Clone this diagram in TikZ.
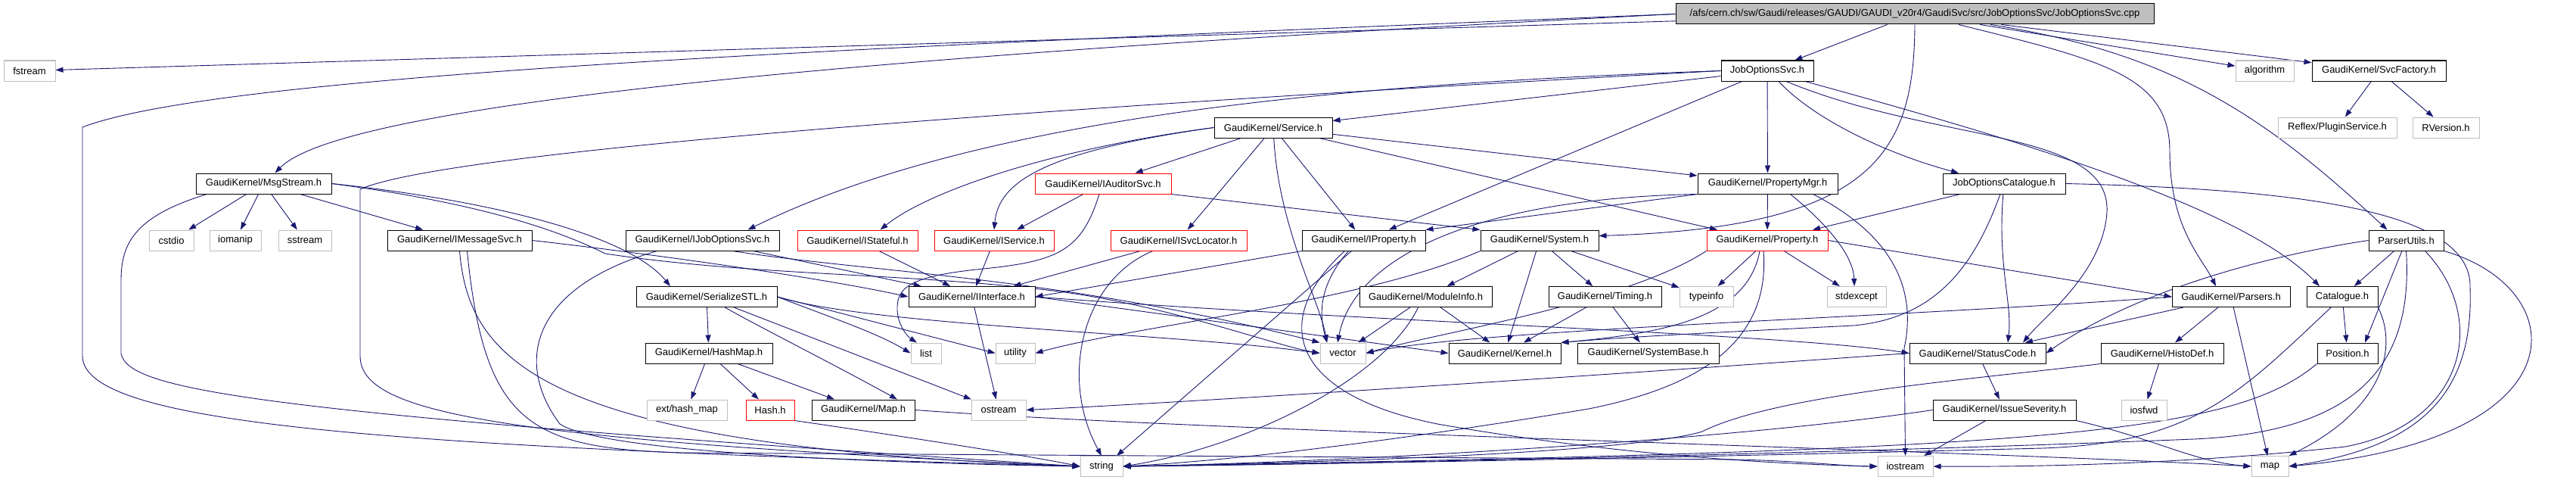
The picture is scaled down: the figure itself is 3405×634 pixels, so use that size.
\documentclass[tikz,border=0pt]{standalone}
\usepackage{fontspec}
\newfontfamily\lab{Liberation Sans}
\usetikzlibrary{arrows.meta,backgrounds}
\definecolor{edgec}{HTML}{191970}
\definecolor{grayb}{HTML}{BFBFBF}
\newcommand\bx[6]{\node[#5,minimum width={(#3)-(#2)}] (#1) at ({((#2)+(#3))/2},#4) {#6};}
\begin{document}
\begin{tikzpicture}[x=1pt,y=-1pt,
  bn/.style={draw=black,line width=1pt,fill=white,inner sep=0pt,minimum height=27pt,font=\lab\fontsize{13}{15}\selectfont},
  gn/.style={bn,draw=grayb},
  rn/.style={bn,draw=red},
  rootn/.style={bn,fill=grayb},
  ed/.style={draw=edgec,line width=0.9pt,-{Triangle[length=10pt,width=7pt]}}]
\useasboundingbox (0,0) rectangle (3405,634);
% row 0
\bx{root}{2215}{2847}{18.5}{rootn}{/afs/cern.ch/sw/Gaudi/releases/GAUDI/GAUDI\_v20r4/GaudiSvc/src/JobOptionsSvc/JobOptionsSvc.cpp}
% row 1
\bx{fstream}{5}{73}{93.5}{gn}{fstream}
\bx{jsh}{2275}{2397}{93.5}{bn}{JobOptionsSvc.h}
\bx{algorithm}{2955}{3032}{93.5}{gn}{algorithm}
\bx{svcf}{3056}{3233}{93.5}{bn}{GaudiKernel/SvcFactory.h}
% row 2
\bx{svc}{1605}{1761}{168.5}{bn}{GaudiKernel/Service.h}
\bx{plug}{3011}{3168}{168.5}{gn}{Reflex/PluginService.h}
\bx{rver}{3189}{3277}{168.5}{gn}{RVersion.h}
% row 3
\bx{ms}{259}{438}{242.5}{bn}{GaudiKernel/MsgStream.h}
\bx{ia}{1368}{1548}{242.5}{rn}{GaudiKernel/IAuditorSvc.h}
\bx{pm}{2244}{2429}{242.5}{bn}{GaudiKernel/PropertyMgr.h}
\bx{joc}{2568}{2730}{242.5}{bn}{JobOptionsCatalogue.h}
% row 4
\bx{cstdio}{197}{256}{317.5}{gn}{cstdio}
\bx{iomanip}{277}{345}{317.5}{gn}{iomanip}
\bx{sstream}{368}{438}{317.5}{gn}{sstream}
\bx{ims}{512}{703}{317.5}{bn}{GaudiKernel/IMessageSvc.h}
\bx{ijo}{827}{1030}{317.5}{bn}{GaudiKernel/IJobOptionsSvc.h}
\bx{ist}{1054}{1213}{317.5}{rn}{GaudiKernel/IStateful.h}
\bx{isv}{1235}{1393}{317.5}{rn}{GaudiKernel/IService.h}
\bx{isl}{1468}{1648}{317.5}{rn}{GaudiKernel/ISvcLocator.h}
\bx{ip}{1721}{1884}{317.5}{bn}{GaudiKernel/IProperty.h}
\bx{sys}{1957}{2113}{317.5}{bn}{GaudiKernel/System.h}
\bx{pr}{2256}{2416}{317.5}{rn}{GaudiKernel/Property.h}
\bx{pu}{3131}{3230}{317.5}{bn}{ParserUtils.h}
% row 5
\bx{ss}{841}{1027}{392}{bn}{GaudiKernel/SerializeSTL.h}
\bx{ii}{1201}{1368}{392}{bn}{GaudiKernel/IInterface.h}
\bx{mi}{1797}{1972}{392}{bn}{GaudiKernel/ModuleInfo.h}
\bx{ti}{2047}{2196}{392}{bn}{GaudiKernel/Timing.h}
\bx{typeinfo}{2220}{2291}{392}{gn}{typeinfo}
\bx{stdexcept}{2415}{2493}{392}{gn}{stdexcept}
\bx{pa}{2871}{3027}{392}{bn}{GaudiKernel/Parsers.h}
\bx{ca}{3049}{3143}{392}{bn}{Catalogue.h}
% row 6
\bx{hm}{853}{1021}{466.5}{bn}{GaudiKernel/HashMap.h}
\bx{list}{1204}{1244}{466.5}{gn}{list}
\bx{utility}{1316}{1368}{466.5}{gn}{utility}
\bx{vector}{1745}{1805}{466.5}{gn}{vector}
\bx{kern}{1915}{2063}{466.5}{bn}{GaudiKernel/Kernel.h}
\bx{sb}{2085}{2272}{466.5}{bn}{GaudiKernel/SystemBase.h}
\bx{sc}{2524}{2704}{466.5}{bn}{GaudiKernel/StatusCode.h}
\bx{hd}{2777}{2939}{466.5}{bn}{GaudiKernel/HistoDef.h}
\bx{pos}{3063}{3143}{466.5}{bn}{Position.h}
% row 7
\bx{ehm}{855}{961}{541.5}{gn}{ext/hash\_map}
\bx{hash}{986}{1050}{541.5}{rn}{Hash.h}
\bx{mp}{1073}{1209}{541.5}{bn}{GaudiKernel/Map.h}
\bx{ostream}{1284}{1356}{541.5}{gn}{ostream}
\bx{is}{2555}{2744}{541.5}{bn}{GaudiKernel/IssueSeverity.h}
\bx{iosfwd}{2804}{2864}{541.5}{gn}{iosfwd}
% row 8
\bx{string}{1428}{1484}{616}{gn}{string}
\bx{iostream}{2482}{2555}{616}{gn}{iostream}
\bx{map}{2976}{3025}{616}{gn}{map}

\begin{scope}[on background layer]
\fill[white] (0,0) rectangle (3405,634);
% root
\draw[ed] (root) -- (fstream);
\draw[ed] (root.west) .. controls (1200,60) and (300,95) .. (109,168) -- (109,470) .. controls (109,560) and (500,590) .. (string.west);
\draw[ed] (root.west) .. controls (1100,75) and (450,140) .. ([xshift=15]ms.north);
\draw[ed] (root) -- (jsh);
\draw[ed] (root) -- (algorithm);
\draw[ed] (root) -- (svcf);
\draw[ed] ([xshift=100]root.south) .. controls (2870,70) and (2990,150) .. ([xshift=-25]pu.north);
\draw[ed] ([xshift=58]root.south) .. controls (2780,80) and (2868,100) .. (2868,200) .. controls (2868,300) and (2910,340) .. ([xshift=-20]pa.north);
\draw[ed] (root.south) .. controls (2530,200) and (2480,300) .. ([yshift=6]sys.east);
% SvcFactory.h
\draw[ed] (svcf) -- (plug);
\draw[ed] (svcf) -- (rver);
% JobOptionsSvc.h
\draw[ed] (jsh) -- (svc);
\draw[ed] (jsh) -- (pm);
\draw[ed] ([xshift=15]jsh.south) .. controls (2400,160) and (2500,205) .. ([xshift=-60]joc.north);
\draw[ed] (jsh.west) .. controls (1800,110) and (1300,150) .. ([xshift=60]ijo.north);
\draw[ed] (jsh.west) .. controls (1500,135) and (600,195) .. (476,250) -- (476,470) .. controls (476,545) and (650,580) .. (string.west);
\draw[ed] (jsh) -- (ip);
\draw[ed] ([xshift=50]jsh.south) .. controls (2650,180) and (2960,270) .. ([xshift=-30]ca.north);
\draw[ed] ([xshift=25]jsh.south) .. controls (2560,190) and (2790,170) .. (2785,280) .. controls (2780,360) and (2700,420) .. ([xshift=60]sc.north);
% Service.h
\draw[ed] (svc.west) .. controls (1400,195) and (1230,250) .. ([xshift=30]ist.north);
\draw[ed] (svc.west) .. controls (1380,200) and (1320,240) .. (isv.north);
\draw[ed] (svc) -- (ia);
\draw[ed] (svc) -- (isl);
\draw[ed] (svc) .. controls (1690,300) and (1745,400) .. ([xshift=-21]vector.north);
\draw[ed] (svc) -- (ip);
\draw[ed] (svc) -- (pm);
\draw[ed] (svc) -- ([xshift=-66]pr.north);
% MsgStream.h
\draw[ed] (ms) -- (cstdio);
\draw[ed] (ms) -- (iomanip);
\draw[ed] (ms) -- (sstream);
\draw[ed] (ms) -- (ims);
\draw[ed] (ms.east) .. controls (650,265) and (830,310) .. ([xshift=-48]ss.north);
\draw[ed] (ms.east) .. controls (650,270) and (750,310) .. (800,335) .. controls (1000,365) and (1200,360) .. (1400,385) .. controls (1550,405) and (1680,455) .. (vector.west);
\draw[ed] ([xshift=-75]ms.south) .. controls (180,285) and (160,320) .. (160,370) -- (160,467) .. controls (170,515) and (330,545) .. (string.west);
% IAuditorSvc.h
\draw[ed] (ia) -- ([xshift=30]isv.north);
\draw[ed] ([xshift=-5]ia.south) .. controls (1430,330) and (1400,345) .. (1300,355) .. controls (1200,365) and (1185,380) .. (1186,410) .. controls (1187,430) and (1200,445) .. ([xshift=-12]list.north);
\draw[ed] (ia.south east) -- (sys.north west);
% IMessageSvc.h
\draw[ed] (ims.east) .. controls (900,340) and (1100,370) .. (ii.west);
\draw[ed] (ims.south) .. controls (620,480) and (720,590) .. (string.west);
\draw[ed] ([xshift=10]ims.south) .. controls (640,560) and (700,592) .. (900,598) -- (2300,607) .. controls (2400,610) and (2440,616) .. (iostream.west);
% IJobOptionsSvc.h
\draw[ed] (ijo) -- (ii);
\draw[ed] ([xshift=-60]ijo.south) .. controls (700,380) and (680,480) .. (740,560) .. controls (800,600) and (1200,612) .. (string.west);
\draw[ed] ([xshift=40]ijo.south) .. controls (1150,360) and (1400,365) .. (vector.north west);
% interfaces -> IInterface
\draw[ed] (ist) -- (ii);
\draw[ed] (isv) -- (ii);
\draw[ed] (isl) -- ([xshift=55]ii.north);
\draw[ed] (isl) .. controls (1430,370) and (1400,500) .. (string.north);
% IProperty.h
\draw[ed] (ip) -- (ii.east);
\draw[ed] ([xshift=-20]ip.south) .. controls (1740,380) and (1745,420) .. ([xshift=-21]vector.north);
\draw[ed] ([xshift=-25]ip.south) .. controls (1680,420) and (1700,520) .. (1900,560) .. controls (2100,595) and (2300,612) .. (iostream.west);
\draw[ed] (ip) -- ([xshift=20]string.north);
% System.h
\draw[ed] (sys) -- (mi);
\draw[ed] (sys) -- (ti);
\draw[ed] (sys) -- (kern);
\draw[ed] (sys) -- (typeinfo);
\draw[ed] (sys.south west) .. controls (1800,400) and (1500,430) .. (utility.east);
% PropertyMgr.h
\draw[ed] (pm) -- (pr);
\draw[ed] (pm.south west) -- (ip.north east);
\draw[ed] (pm.south west) .. controls (1950,262) and (1790,340) .. ([xshift=-7]vector.north);
\draw[ed] ([xshift=30]pm.south) .. controls (2420,300) and (2450,340) .. ([xshift=-3]stdexcept.north);
\draw[ed] ([xshift=60]pm.south) .. controls (2520,320) and (2530,400) .. (2517,460) -- (iostream.north);
% Property.h
\draw[ed] (pr) -- (typeinfo);
\draw[ed] (pr) -- (stdexcept);
\draw[ed] ([xshift=-5]pr.south) .. controls (2340,450) and (2250,510) .. (2100,540) .. controls (1800,590) and (1600,610) .. (string.east);
\draw[ed] (pr.east) -- (pa.west);
\draw[ed] ([xshift=-10]pr.south) .. controls (2310,420) and (2200,440) .. (kern.north east);
\draw[ed] (pr.south west) .. controls (2150,400) and (1900,440) .. (vector.east);
% JobOptionsCatalogue.h
\draw[ed] (joc) -- ([xshift=60]pr.north);
\draw[ed] (joc) .. controls (2640,350) and (2660,400) .. ([xshift=40]sc.north);
\draw[ed] (joc) .. controls (2610,350) and (2560,420) .. (2450,430) .. controls (2250,440) and (2150,445) .. (kern.north east);
\draw[ed] (joc.east) .. controls (3050,250) and (3268,280) .. (3265,380) .. controls (3270,520) and (3200,590) .. (map.east);
% ParserUtils.h
\draw[ed] (pu) -- (ca);
\draw[ed] (pu) -- ([xshift=23]pos.north);
\draw[ed] (pu.west) .. controls (2950,345) and (2800,400) .. (sc.east);
\draw[ed] (pu.south east) .. controls (3400,380) and (3420,580) .. (map.east);
\draw[ed] ([xshift=25]pu.south) .. controls (3290,420) and (3260,560) .. (3100,590) .. controls (2900,612) and (2700,617) .. (iostream.east);
\draw[ed] (pu.south) .. controls (3190,480) and (3120,570) .. (2900,580) .. controls (2400,600) and (1800,612) .. (string.east);
% Parsers.h
\draw[ed] (pa) -- (hd);
\draw[ed] (pa) -- (map);
\draw[ed] (pa) -- (sc);
\draw[ed] (pa.west) .. controls (2500,420) and (1950,435) .. (vector.east);
% Catalogue.h
\draw[ed] (ca) -- (pos);
\draw[ed] (ca.south east) .. controls (3170,460) and (3150,540) .. (map.north east);
\draw[ed] (ca) .. controls (2960,520) and (2900,585) .. (2700,592) .. controls (2200,605) and (1700,614) .. (string.east);
% Position.h
\draw[ed] (pos.south west) .. controls (2950,575) and (2700,595) .. (string.east);
% SerializeSTL.h
\draw[ed] (ss) -- (hm);
\draw[ed] (ss) .. controls (1000,430) and (1100,480) .. ([xshift=45]mp.north);
\draw[ed] (ss.east) .. controls (1100,420) and (1160,440) .. (list.west);
\draw[ed] (ss.east) -- (utility.west);
\draw[ed] (ss) -- (ostream);
\draw[ed] (ss.east) .. controls (1150,430) and (1550,440) .. (vector.west);
% HashMap.h
\draw[ed] (hm) -- (ehm);
\draw[ed] (hm) -- (hash);
\draw[ed] (hm) -- (mp);
% IInterface.h
\draw[ed] (ii) -- (ostream);
\draw[ed] (ii.east) -- (kern.west);
\draw[ed] (ii.east) .. controls (1800,425) and (2350,440) .. (sc.west);
% ModuleInfo.h
\draw[ed] (mi) -- (vector);
\draw[ed] (mi) -- (kern);
\draw[ed] ([xshift=-10]mi.south) .. controls (1830,500) and (1650,590) .. (string.east);
% Timing.h
\draw[ed] (ti) -- (kern);
\draw[ed] (ti) -- (sb);
% StatusCode.h
\draw[ed] (sc) -- (is);
\draw[ed] (sc.west) .. controls (2200,490) and (1600,530) .. (ostream.east);
% IssueSeverity.h
\draw[ed] (is) -- (iostream);
\draw[ed] (is.south east) .. controls (2850,580) and (2900,610) .. (map.west);
\draw[ed] (is.west) .. controls (2300,580) and (1800,610) .. (string.east);
% HistoDef.h
\draw[ed] (hd) -- (iosfwd);
\draw[ed] (hd.south west) .. controls (2620,500) and (2350,520) .. (2250,570) .. controls (2150,600) and (1700,612) .. (string.east);
% Map.h, Hash.h
\draw[ed] (mp.east) .. controls (1600,570) and (2600,595) .. (map.west);
\draw[ed] (hash.south east) .. controls (1150,570) and (1350,600) .. (string.west);
\end{scope}
\end{tikzpicture}
\end{document}
